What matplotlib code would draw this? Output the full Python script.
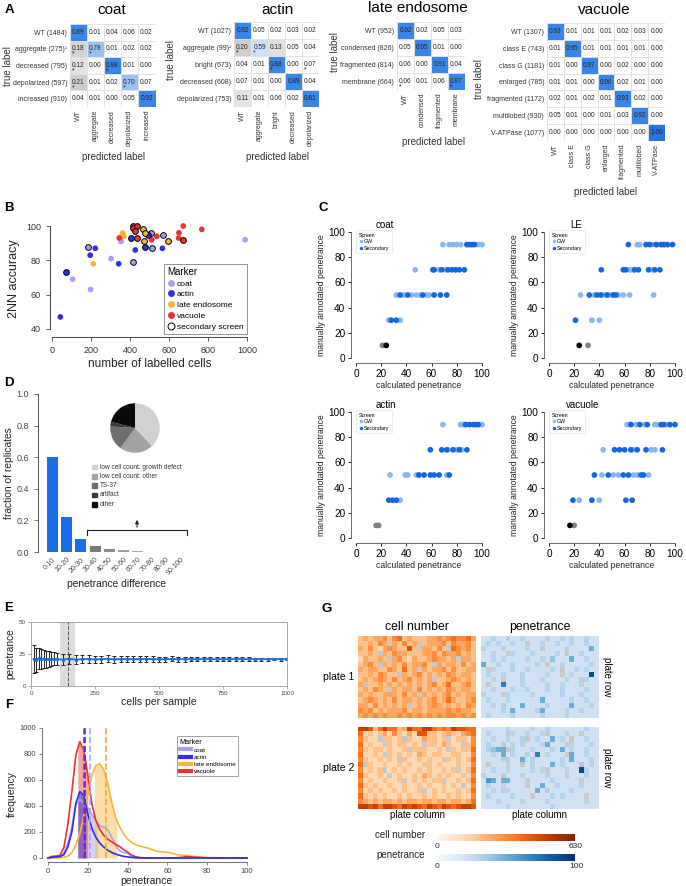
import numpy as np
import matplotlib
matplotlib.use('Agg')
import matplotlib.pyplot as plt
from matplotlib.lines import Line2D

plt.rcParams['font.family'] = ['Liberation Sans', 'DejaVu Sans']

# ---------------- DATA ----------------
# Panel A confusion matrices
coat_rows = ['WT (1484)', 'aggregate (275)¹', 'decreased (795)', 'depolarized (597)', 'increased (910)']
coat_cols = ['WT', 'aggregate', 'decreased', 'depolarized', 'increased']
coat_cm = [[0.89, 0.01, 0.04, 0.06, 0.02],
           [0.18, 0.78, 0.01, 0.02, 0.02],
           [0.12, 0.00, 0.88, 0.01, 0.00],
           [0.21, 0.01, 0.02, 0.70, 0.07],
           [0.04, 0.01, 0.00, 0.05, 0.92]]
coat_stars = [(1, 0), (2, 0), (3, 0), (1, 1), (2, 2), (3, 3)]

actin_rows = ['WT (1027)', 'aggregate (99)²', 'bright (673)', 'decreased (608)', 'depolarized (753)']
actin_cols = ['WT', 'aggregate', 'bright', 'decreased', 'depolarized']
actin_cm = [[0.92, 0.05, 0.02, 0.03, 0.02],
            [0.20, 0.59, 0.13, 0.05, 0.04],
            [0.04, 0.01, 0.88, 0.00, 0.07],
            [0.07, 0.01, 0.00, 0.89, 0.04],
            [0.11, 0.01, 0.06, 0.02, 0.81]]
actin_stars = [(1, 0), (1, 1), (2, 2), (2, 4)]

le_rows = ['WT (952)', 'condensed (826)', 'fragmented (814)', 'membrane (664)']
le_cols = ['WT', 'condensed', 'fragmented', 'membrane']
le_cm = [[0.92, 0.02, 0.05, 0.03],
         [0.05, 0.95, 0.01, 0.00],
         [0.06, 0.00, 0.91, 0.04],
         [0.06, 0.01, 0.06, 0.87]]
le_stars = [(3, 0), (3, 3)]

vac_rows = ['WT (1307)', 'class E (743)', 'class G (1181)', 'enlarged (785)',
            'fragmented (1172)', 'multilobed (930)', 'V-ATPase (1077)']
vac_cols = ['WT', 'class E', 'class G', 'enlarged', 'fragmented', 'multilobed', 'V-ATPase']
vac_cm = [[0.93, 0.01, 0.01, 0.01, 0.02, 0.03, 0.00],
          [0.01, 0.95, 0.01, 0.01, 0.01, 0.01, 0.00],
          [0.01, 0.00, 0.97, 0.00, 0.02, 0.00, 0.00],
          [0.01, 0.01, 0.00, 0.96, 0.02, 0.01, 0.00],
          [0.02, 0.01, 0.02, 0.01, 0.93, 0.02, 0.00],
          [0.05, 0.01, 0.00, 0.01, 0.03, 0.92, 0.00],
          [0.00, 0.00, 0.00, 0.00, 0.00, 0.00, 1.00]]
vac_stars = []

# Panel B: 2NN accuracy vs number of labelled cells
b_coat_x = [106, 198, 303, 354, 990]
b_coat_y = [69, 63, 81, 91, 92]
b_coat2_x = [185, 414, 511, 508, 571]
b_coat2_y = [88, 79, 87, 96, 95]
b_actin_x = [43, 196, 222, 342, 427, 566]
b_actin_y = [47, 83, 87, 78, 86, 87]
b_actin2_x = [72, 403, 479, 491]
b_actin2_y = [73, 93, 88, 95]
b_le_x = [212, 362, 369, 358]
b_le_y = [78, 96, 94, 94]
b_le2_x = [468, 475, 472, 593]
b_le2_y = [98, 96, 91, 91]
b_vac_x = [345, 511, 537, 651, 649, 673, 768]
b_vac_y = [93, 92, 94, 96, 93, 100, 98]
b_vac2_x = [414, 417, 438, 427, 434, 670]
b_vac2_y = [100, 99, 100, 97, 93, 92]

# Panel C: calculated vs manually annotated penetrance (x values per annotated level)
c_coat_gw = {90: [69, 74, 77, 80, 83, 97, 100], 70: [47, 66, 71, 79],
             50: [32, 38, 44, 48, 51, 56, 58], 30: [26, 35]}
c_coat_sec = {90: [88, 90, 92, 94], 70: [61, 62, 68, 73, 76, 79, 82, 86],
              50: [35, 41, 53, 62, 67, 72], 30: [28, 32]}
c_coat_gray = [21]
c_coat_black = [24]
c_le_gw = {90: [70, 72, 82, 86, 92], 70: [64, 66, 82],
           50: [25, 36, 43, 48, 55, 59, 64, 83], 30: [34, 40]}
c_le_sec = {90: [63, 77, 80, 85, 89, 91, 94, 98], 70: [41.5, 59, 61, 68, 71, 79, 84, 88],
            50: [32, 38, 41, 46, 51, 53], 30: [21]}
c_le_gray = [31]
c_le_black = [24]
c_actin_gw = {90: [69, 83, 85, 87, 100], 70: [73, 80, 84],
              50: [27, 39, 41, 48, 72], 30: [35]}
c_actin_sec = {90: [87, 90, 93, 95, 97], 70: [59, 68, 72, 77, 82, 88],
               50: [50, 54, 59, 62, 66, 74], 30: [26, 29, 32]}
c_actin_gray = [16, 18]
c_actin_black = []
c_vac_gw = {90: [62, 69, 76, 84, 86, 93], 70: [43, 67, 81, 84],
            50: [42, 51, 55, 67, 70, 79], 30: [24, 40]}
c_vac_sec = {90: [65, 72, 78, 89, 91, 96, 100], 70: [52, 56, 60, 65, 70, 77, 90],
             50: [36, 47, 59, 63, 73, 75], 30: [19, 34, 61, 66]}
c_vac_gray = [20]
c_vac_black = [16.6]

# Panel D
d_bins = ['0-10', '10-20', '20-30', '30-40', '40-50', '50-60', '60-70', '70-80', '80-90', '90-100']
d_frac = [0.60, 0.22, 0.085, 0.04, 0.02, 0.01, 0.006, 0.003, 0.002, 0.001]
d_pie_labels = ['low cell count: growth defect', 'low cell count: other', 'TS-37', 'artifact', 'other']
d_pie_vals = [38, 22, 16, 3, 21]

# Panel E
e_cells = [10, 20, 30, 40, 50, 60, 70, 80, 90, 100,
           125, 150, 175, 200, 225, 250, 275, 300, 325, 350, 375, 400, 425, 450, 475, 500,
           525, 550, 575, 600, 625, 650, 675, 700, 725, 750, 775, 800, 825, 850, 875, 900,
           925, 950, 975, 1000]
e_pen = [21.2, 20.5, 21.5, 21.0, 21.3, 20.8, 21.1, 20.9, 21.2, 21.0,
         20.7, 21.3, 20.6, 21.0, 21.1, 20.8, 21.0, 21.2, 20.9, 21.0, 21.1, 20.9, 21.0, 21.1, 21.0, 20.9,
         21.0, 21.1, 21.0, 20.9, 21.0, 21.0, 21.1, 21.0, 20.9, 21.0, 21.0, 21.1, 21.0, 21.0, 20.9, 21.0,
         21.0, 21.1, 21.0, 21.0]
e_err = [11.0, 9.5, 8.5, 8.0, 7.0, 6.5, 6.0, 5.5, 5.0, 4.8,
         4.2, 3.8, 3.5, 3.3, 3.1, 2.9, 2.8, 2.7, 2.6, 2.5, 2.4, 2.3, 2.25, 2.2, 2.1, 2.05,
         2.0, 1.95, 1.9, 1.85, 1.8, 1.75, 1.7, 1.65, 1.6, 1.55, 1.5, 1.45, 1.4, 1.35, 1.3, 1.25,
         1.2, 1.15, 1.1, 1.05]

# Panel F: penetrance distributions
f_x = [0, 2, 4, 6, 8, 10, 12, 14, 16, 18, 20, 22, 24, 26, 28, 30, 32, 34, 36, 38, 40,
       42, 44, 46, 48, 50, 55, 60, 65, 70, 75, 80, 85, 90, 95, 100]
f_coat = [0, 3, 5, 10, 40, 110, 240, 410, 450, 420, 385, 335, 290, 245, 238, 215, 160, 95, 55, 42, 38,
          10, 3, 0, 0, 0, 0, 0, 0, 0, 0, 0, 0, 0, 0, 0]
f_actin = [0, 5, 8, 10, 25, 85, 200, 420, 510, 480, 340, 230, 160, 115, 85, 60, 42, 30, 20, 12, 8,
           4, 2, 1, 0, 0, 0, 0, 0, 0, 0, 0, 0, 0, 0, 0]
f_le = [0, 0, 0, 0, 5, 15, 40, 100, 185, 320, 480, 630, 710, 725, 680, 580, 430, 310, 240, 185, 145,
        120, 103, 92, 84, 77, 50, 44, 25, 18, 8, 4, 2, 1, 0, 0]
f_vac = [0, 12, 15, 20, 80, 260, 510, 790, 895, 830, 640, 420, 290, 220, 175, 145, 125, 105, 88, 65, 45,
         22, 10, 4, 2, 1, 0, 0, 2, 10, 5, 0, 0, 0, 0, 0]
f_iqr = {'coat': (15, 25), 'actin': (15, 19), 'late endosome': (23.3, 34.6), 'vacuole': (15, 20)}
f_median = {'vacuole': 18.0, 'actin': 18.7, 'coat': 21.0, 'late endosome': 29.0}

# Panel G: plate heatmaps (levels 0-9, x = missing well)
g_p1_cells = [
    "343445356343334454565564", "334354x43534x34445354453", "435324543373x44353x65453",
    "3343x4354433344535445343", "243343x4532433454434x443", "3453x4343534453x43443534",
    "434433543634x43445353344", "33435433x434534343543443", "343454353453434x33454343",
    "4x3343434343434534633453", "343543x43443534343543443", "434334443534x43434534344",
    "345434353443434534643345", "4435343434x3434543434354", "545343444534434444545443",
    "454545445454545454554545"]
g_p2_cells = [
    "887368663486688656587766", "623234253242773323432456", "5322x3323x32243323x23325",
    "62322x3233232x3324322x35", "5323323223x3332232x32336", "62232x323232432332233225",
    "53223232x32232322x323236", "6x3223223232233232223225", "52323x23232232322323x236",
    "632232x23223243232322325", "523223223x2323233x223236", "632322322322323223232x25",
    "5232322323223x2323223236", "632323223232232322323225", "543434434344344344344346",
    "887868876878768768767887"]
g_p1_pen = [
    "223223223222232232322322", "232322322x22322322322322", "322232222322x22223222252",
    "22322x32223222232x223222", "223232222322324222522322", "5223223222232x2232222232",
    "2x32223223222232x2232322", "2322322232222322x2322292", "2232x222322232222322x322",
    "2x2272223222232232223222", "223222322322232232222322", "3222x3222232222232223222",
    "232223222222522222322322", "223232225222232222522232", "222232522223522223223222",
    "232222322222322223222222"]
g_p2_pen = [
    "222223222232232222222322", "23222x3223223x222322x222", "223223223x23225232x22322",
    "2322x232322235222x322232", "23455x322232223252322322", "22325232232723222x522322",
    "22223x225232222232522232", "2x222322x23222523222x232", "2232232222323x2223229322",
    "3222x222322223222x222322", "265255222x2222322222x222", "232232222x22522322223222",
    "2232x32222252x2222322222", "2322223222x2223232222x22", "222322223222232222222322",
    "222223222222223222222222"]
g_cell_max = 630
g_pen_max = 100

# ---------------- FIGURE ----------------
W, H = 686, 886
fig = plt.figure(figsize=(W / 100, H / 100), dpi=100)


def rect(x0, y0, x1, y1):
    return [x0 / W, 1 - y1 / H, (x1 - x0) / W, (y1 - y0) / H]


def ftext(x, y, s, **kw):
    fig.text(x / W, 1 - y / H, s, **kw)


TXT = '#333333'
for lab, (lx, ly) in {'A': (9, 10), 'B': (9, 208), 'C': (323, 208), 'D': (9, 383),
                      'E': (9, 608), 'F': (9, 705), 'G': (327, 609)}.items():
    ftext(lx, ly, lab, fontsize=9.5, fontweight='bold', ha='center', va='center')


# ---------- Panel A ----------
def cell_color(v, diag):
    if diag:
        if v >= 0.99:
            return (0.16, 0.45, 0.89)
        if v >= 0.8:
            return (0.22, 0.53, 0.91)
        if v >= 0.65:
            return (0.60, 0.76, 0.95)
        return (0.81, 0.88, 0.97)
    if v >= 0.1:
        g = 1 - v * 0.95
        return (g, g, g)
    return (1, 1, 1)


def draw_cm(box, title, title_xy, rows, cols, cm, stars, tl_xy, pl_xy):
    x0, y0, x1, y1 = box
    ax = fig.add_axes(rect(x0, y0, x1, y1))
    cm = np.array(cm)
    n, m = cm.shape
    colors = np.ones((n, m, 3))
    for i in range(n):
        for j in range(m):
            colors[i, j] = cell_color(cm[i, j], i == j)
    ax.imshow(colors, extent=(-0.5, m - 0.5, n - 0.5, -0.5), aspect='auto', interpolation='nearest')
    for k in range(m + 1):
        ax.axvline(k - 0.5, color='#e2e2e2', lw=0.7)
    for k in range(n + 1):
        ax.axhline(k - 0.5, color='#e2e2e2', lw=0.7)
    for i in range(n):
        for j in range(m):
            ax.text(j, i, f'{cm[i, j]:.2f}', ha='center', va='center', fontsize=4.7, color='#222222')
    for (i, j) in stars:
        ax.text(j - 0.33, i + 0.33, '*', ha='center', va='center', fontsize=5, color='#222222')
    ax.set_xticks(range(m))
    ax.set_xticklabels(cols, rotation=90, fontsize=5.0, color=TXT)
    ax.set_yticks(range(n))
    ax.set_yticklabels(rows, fontsize=5.0, color=TXT)
    ax.tick_params(length=0, pad=2)
    for s in ax.spines.values():
        s.set_visible(False)
    ax.set_xlim(-0.5, m - 0.5)
    ax.set_ylim(n - 0.5, -0.5)
    ftext(title_xy[0], title_xy[1], title, fontsize=11, ha='center', va='center')
    ftext(tl_xy[0], tl_xy[1], 'true label', fontsize=7, ha='center', va='center', rotation=90, color=TXT)
    ftext(pl_xy[0], pl_xy[1], 'predicted label', fontsize=7, ha='center', va='center', color=TXT)


draw_cm((70, 24, 155, 107), 'coat', (112, 10), coat_rows, coat_cols, coat_cm, coat_stars, (8, 66), (114, 157))
draw_cm((234, 22, 319, 107), 'actin', (277, 10), actin_rows, actin_cols, actin_cm, actin_stars, (171, 60), (277, 157))
draw_cm((397, 22, 465, 90), 'late endosome', (418, 8), le_rows, le_cols, le_cm, le_stars, (335, 52), (433, 142))
draw_cm((547, 23, 665, 141), 'vacuole', (604, 10), vac_rows, vac_cols, vac_cm, vac_stars, (479, 79), (605, 192))

# ---------- Panel B ----------
C_COAT, C_ACTIN, C_LE, C_VAC = '#ad9ff0', '#2f2fe3', '#f7b73c', '#ec3232'
axb = fig.add_axes(rect(50, 220, 250, 337))
for xs, ys, col, sec in [(b_coat_x, b_coat_y, C_COAT, False), (b_actin_x, b_actin_y, C_ACTIN, False),
                         (b_le_x, b_le_y, C_LE, False), (b_vac_x, b_vac_y, C_VAC, False),
                         (b_coat2_x, b_coat2_y, C_COAT, True), (b_actin2_x, b_actin2_y, C_ACTIN, True),
                         (b_le2_x, b_le2_y, C_LE, True), (b_vac2_x, b_vac2_y, C_VAC, True)]:
    axb.scatter(xs, ys, s=17, c=col, edgecolors='black' if sec else 'none', linewidths=0.7,
                clip_on=False, zorder=3)
axb.set_xlim(-10, 1015)
axb.set_ylim(35.3, 103.5)
axb.spines['top'].set_visible(False)
axb.spines['right'].set_visible(False)
axb.spines['left'].set_bounds(40, 100)
axb.spines['bottom'].set_bounds(0, 1000)
for s in ('left', 'bottom'):
    axb.spines[s].set_color('#444444')
    axb.spines[s].set_linewidth(0.7)
axb.set_xticks([0, 200, 400, 600, 800, 1000])
axb.set_yticks([40, 60, 80, 100])
axb.tick_params(labelsize=6.5, length=3, width=0.6, colors='#444444', labelcolor=TXT)
axb.set_xlabel('number of labelled cells', fontsize=8.5, labelpad=2, color='#222222')
axb.set_ylabel('2NN accuracy', fontsize=9, labelpad=4, color='#222222')
hb = [Line2D([], [], ls='', marker='o', ms=5, mfc=c, mec='none', label=l)
      for c, l in [(C_COAT, 'coat'), (C_ACTIN, 'actin'), (C_LE, 'late endosome'), (C_VAC, 'vacuole')]]
hb.append(Line2D([], [], ls='', marker='o', ms=5, mfc='white', mec='black', mew=0.7, label='secondary screen'))
lg = axb.legend(handles=hb, loc='lower right', bbox_to_anchor=(0.985, 0.026), borderaxespad=0,
                fontsize=6, title='Marker', title_fontsize=7, alignment='left', fancybox=False,
                edgecolor='#777777', handletextpad=0.2, handlelength=1.0, labelspacing=0.35,
                borderpad=0.4)
lg.get_frame().set_linewidth(0.7)

# ---------- Panel C ----------
C_GW, C_SEC = '#8ab6f0', '#1565e0'


def draw_c(x0, y100, title, title_xy, gw, sec, gray, black):
    s = 1.26
    ax = fig.add_axes(rect(x0 - 5, y100 - 4, x0 + 100 * s + 4, y100 + 100 * s + 5))
    ax.set_xlim(-5 / s, 100 + 4 / s)
    ax.set_ylim(-5 / s, 100 + 4 / s)
    for lvl, xs in gw.items():
        ax.scatter(xs, [lvl] * len(xs), s=17, c=C_GW, edgecolors='none', zorder=2, clip_on=False)
    for lvl, xs in sec.items():
        ax.scatter(xs, [lvl] * len(xs), s=17, c=C_SEC, edgecolors='none', zorder=3, clip_on=False)
    if gray:
        ax.scatter(gray, [10] * len(gray), s=17, c='#808080', edgecolors='none', zorder=3)
    if black:
        ax.scatter(black, [10] * len(black), s=17, c='black', edgecolors='none', zorder=4)
    ax.spines['top'].set_visible(False)
    ax.spines['right'].set_visible(False)
    ax.spines['left'].set_bounds(0, 100)
    ax.spines['bottom'].set_bounds(0, 100)
    for sp in ('left', 'bottom'):
        ax.spines[sp].set_linewidth(0.6)
        ax.spines[sp].set_color('#555555')
    ax.set_xticks(range(0, 101, 20))
    ax.set_yticks(range(0, 101, 20))
    ax.tick_params(labelsize=7.2, length=2.5, width=0.6, pad=1.5)
    ax.set_xlabel('calculated penetrance', fontsize=6.2, labelpad=1.5, color='#222222')
    ax.set_ylabel('manually annotated penetrance', fontsize=6.2, labelpad=1.5, color='#222222')
    ftext(title_xy[0], title_xy[1], title, fontsize=7, ha='center', va='center')
    h = [Line2D([], [], ls='', marker='o', ms=2.5, mfc=C_GW, mec='none', label='GW'),
         Line2D([], [], ls='', marker='o', ms=2.5, mfc=C_SEC, mec='none', label='Secondary')]
    lgc = ax.legend(handles=h, loc='upper left', bbox_to_anchor=(0.035, 0.985), borderaxespad=0,
                    fontsize=3.8, title='Screen', title_fontsize=3.8, alignment='left',
                    handletextpad=0.2, handlelength=0.9, labelspacing=0.3, borderpad=0.5,
                    edgecolor='#dddddd', fancybox=True)
    lgc.get_frame().set_linewidth(0.5)


draw_c(356, 232, 'coat', (385, 225), c_coat_gw, c_coat_sec, c_coat_gray, c_coat_black)
draw_c(549, 232, 'LE', (576, 225), c_le_gw, c_le_sec, c_le_gray, c_le_black)
draw_c(356, 412, 'actin', (386, 405), c_actin_gw, c_actin_sec, c_actin_gray, c_actin_black)
draw_c(549, 412, 'vacuole', (583, 405), c_vac_gw, c_vac_sec, c_vac_gray, c_vac_black)

# ---------- Panel D ----------
axd = fig.add_axes(rect(38, 394, 195, 552))
d_colors = ['#1a6ee8', '#1a6ee8', '#1a6ee8', '#7a7a7a', '#8c8c8c', '#9c9c9c', '#acacac', '#bcbcbc',
            '#cacaca', '#d8d8d8']
axd.bar(range(len(d_bins)), d_frac, width=0.78, color=d_colors)
axd.set_xlim(-1.02, 10.03)
axd.set_ylim(0, 1.0)
for s in ('top', 'right', 'bottom'):
    axd.spines[s].set_visible(False)
axd.spines['left'].set_color('#555555')
axd.spines['left'].set_linewidth(0.7)
axd.set_yticks([0, 0.2, 0.4, 0.6, 0.8, 1.0])
axd.set_yticklabels(['0.0', '0.2', '0.4', '0.6', '0.8', '1.0'])
axd.set_xticks(range(len(d_bins)))
axd.set_xticklabels(d_bins, rotation=45, ha='right', rotation_mode='anchor', fontsize=5)
axd.tick_params(axis='y', labelsize=6.5, length=3, width=0.6, colors='#555555', labelcolor='#444444')
axd.tick_params(axis='x', length=0, pad=3, labelcolor='#444444')
axd.set_ylabel('fraction of replicates', fontsize=7.4, labelpad=2, color='#222222')
axd.set_xlabel('penetrance difference', fontsize=7.4, labelpad=2, color='#222222')
# bracket and arrow
bx0, bx1, by = 87, 187, 530
fig.add_artist(Line2D([bx0 / W, bx1 / W], [1 - by / H, 1 - by / H], color='#222222', lw=0.8))
fig.add_artist(Line2D([bx0 / W, bx0 / W], [1 - by / H, 1 - (by + 5) / H], color='#222222', lw=0.8))
fig.add_artist(Line2D([bx1 / W, bx1 / W], [1 - by / H, 1 - (by + 5) / H], color='#222222', lw=0.8))
fig.patches.append(matplotlib.patches.FancyArrowPatch((137 / W, 1 - by / H), (137 / W, 1 - 517 / H),
                                                      transform=fig.transFigure, arrowstyle='-|>',
                                                      mutation_scale=5, color='#222222', lw=0.8))
# pie
axp = fig.add_axes(rect(110, 403, 160, 453))
pie_cols = ['#d0d0d0', '#a2a2a2', '#6e6e6e', '#3a3a3a', '#0a0a0a']
axp.pie(d_pie_vals, colors=pie_cols, startangle=90, counterclock=False,
        wedgeprops=dict(linewidth=0))
axp.set_xlim(-1.01, 1.01)
axp.set_ylim(-1.01, 1.01)
axp.set_aspect('equal')
for k, (lab, col) in enumerate(zip(d_pie_labels, pie_cols)):
    yy = 467 + k * 9.3
    fig.patches.append(matplotlib.patches.Rectangle((92 / W, 1 - (yy + 2.3) / H), 4.5 / W, 4.5 / H,
                                                    transform=fig.transFigure, color=col))
    ftext(100, yy, lab, fontsize=4.7, va='center', ha='left', color='#333333')

# ---------- Panel E ----------
axe = fig.add_axes(rect(31, 622, 287, 686))
axe.axvspan(113, 172, color='#dcdcdc', lw=0)
axe.axvline(143, color='#555555', ls='--', lw=0.7)
axe.errorbar(e_cells, e_pen, yerr=e_err, color='#1f6fd0', ecolor='#222222', elinewidth=0.7,
             capsize=1.4, capthick=0.7, marker='o', ms=1.4, lw=1.3)
axe.set_xlim(0, 1000)
axe.set_ylim(0, 50)
for s in axe.spines.values():
    s.set_color('#999999')
    s.set_linewidth(0.6)
axe.set_xticks([0, 250, 500, 750, 1000])
axe.set_yticks([0, 25, 50])
axe.tick_params(labelsize=4.5, length=2, width=0.5, colors='#888888', labelcolor='#444444', pad=1.5)
axe.set_xlabel('cells per sample', fontsize=7.5, labelpad=1, color='#222222')
axe.set_ylabel('penetrance', fontsize=7.3, labelpad=3, color='#222222')

# ---------- Panel F ----------
axf = fig.add_axes(rect(42, 726, 250, 862))
fx = np.array(f_x, dtype=float)
fine = np.linspace(0, 100, 1001)
series = [('coat', f_coat, C_COAT), ('late endosome', f_le, C_LE),
          ('vacuole', f_vac, C_VAC), ('actin', f_actin, C_ACTIN)]
for name, ys, col in series:
    ys = np.array(ys, dtype=float)
    lo, hi = f_iqr[name]
    yf = np.interp(fine, fx, ys)
    m = (fine >= lo) & (fine <= hi)
    axf.fill_between(fine[m], 0, yf[m], color=col, alpha=0.45, lw=0)
for name, ys, col in series:
    axf.plot(fx, ys, color=col, lw=1.2)
for name in ['coat', 'late endosome', 'vacuole', 'actin']:
    col = {'coat': '#b39ef0', 'late endosome': '#f2a93a', 'vacuole': '#d8304a', 'actin': '#4a2ad8'}[name]
    axf.plot([f_median[name]] * 2, [0, 1000], color=col, ls='--', lw=1.2)
axf.set_xlim(-3, 101.5)
axf.set_ylim(-31, 1015)
axf.spines['top'].set_visible(False)
axf.spines['right'].set_visible(False)
axf.spines['left'].set_bounds(0, 1000)
axf.spines['bottom'].set_bounds(0, 100)
for s in ('left', 'bottom'):
    axf.spines[s].set_color('#555555')
    axf.spines[s].set_linewidth(0.6)
axf.set_xticks(range(0, 101, 20))
axf.set_yticks(range(0, 1001, 200))
axf.tick_params(labelsize=5.5, length=2.5, width=0.5, colors='#555555', labelcolor='#444444', pad=1.5)
axf.set_xlabel('penetrance', fontsize=7.5, labelpad=1, color='#222222')
axf.set_ylabel('frequency', fontsize=7.5, labelpad=2, color='#222222')
hf = [Line2D([], [], color=c, lw=3, label=l) for l, c in
      [('coat', C_COAT), ('actin', C_ACTIN), ('late endosome', C_LE), ('vacuole', C_VAC)]]
lgf = axf.legend(handles=hf, loc='upper left', bbox_to_anchor=(0.649, 0.926), borderaxespad=0,
                 fontsize=4.6, title='Marker', title_fontsize=5.2, alignment='left', fancybox=False,
                 edgecolor='#777777', handletextpad=0.4, handlelength=1.8, labelspacing=0.25,
                 borderpad=0.4)
lgf.get_frame().set_linewidth(0.6)

# ---------- Panel G ----------


def levels(rows):
    return np.array([[np.nan if ch == 'x' else int(ch) for ch in r] for r in rows], dtype=float)


cm_or = plt.get_cmap('Oranges').copy()
cm_or.set_bad('#c8c8c8')
cm_bl = plt.get_cmap('Blues').copy()
cm_bl.set_bad('#c8c8c8')
for (rows, cmap, vmax, scale, box) in [
        (g_p1_cells, cm_or, g_cell_max, 63, (358, 636, 476, 718)),
        (g_p1_pen, cm_bl, g_pen_max, 10, (481, 636, 599, 718)),
        (g_p2_cells, cm_or, g_cell_max, 63, (358, 727, 476, 809)),
        (g_p2_pen, cm_bl, g_pen_max, 10, (481, 727, 599, 809))]:
    ax = fig.add_axes(rect(*box))
    data = np.ma.masked_invalid(levels(rows) * scale)
    ax.imshow(data, cmap=cmap, vmin=0, vmax=vmax, aspect='auto', interpolation='nearest')
    ax.set_xticks([])
    ax.set_yticks([])
    for s in ax.spines.values():
        s.set_visible(False)

ftext(417, 627, 'cell number', fontsize=8.8, ha='center', va='center')
ftext(540, 627, 'penetrance', fontsize=8.8, ha='center', va='center')
ftext(354, 677, 'plate 1', fontsize=7.5, ha='right', va='center')
ftext(354, 768, 'plate 2', fontsize=7.5, ha='right', va='center')
ftext(607, 677, 'plate row', fontsize=7, ha='center', va='center', rotation=270)
ftext(607, 768, 'plate row', fontsize=7, ha='center', va='center', rotation=270)
ftext(417, 815, 'plate column', fontsize=7, ha='center', va='center')
ftext(540, 815, 'plate column', fontsize=7, ha='center', va='center')

grad = np.linspace(0, 1, 256)[None, :]
for cmap, y0, y1, label, maxlab in [(cm_or, 834, 841, 'cell number', str(g_cell_max)),
                                    (cm_bl, 854, 861, 'penetrance', str(g_pen_max))]:
    cax = fig.add_axes(rect(438, y0, 575, y1))
    cax.imshow(grad, cmap=cmap, aspect='auto')
    cax.set_xticks([])
    cax.set_yticks([])
    for s in cax.spines.values():
        s.set_visible(False)
    ftext(425, y0 + 1, label, fontsize=7, ha='right', va='center', color='#222222')
    ftext(437, y1 + 5, '0', fontsize=6, ha='center', va='center', color='#222222')
    ftext(576, y1 + 5, maxlab, fontsize=6, ha='center', va='center', color='#222222')

fig.savefig('out.png', dpi=100)
